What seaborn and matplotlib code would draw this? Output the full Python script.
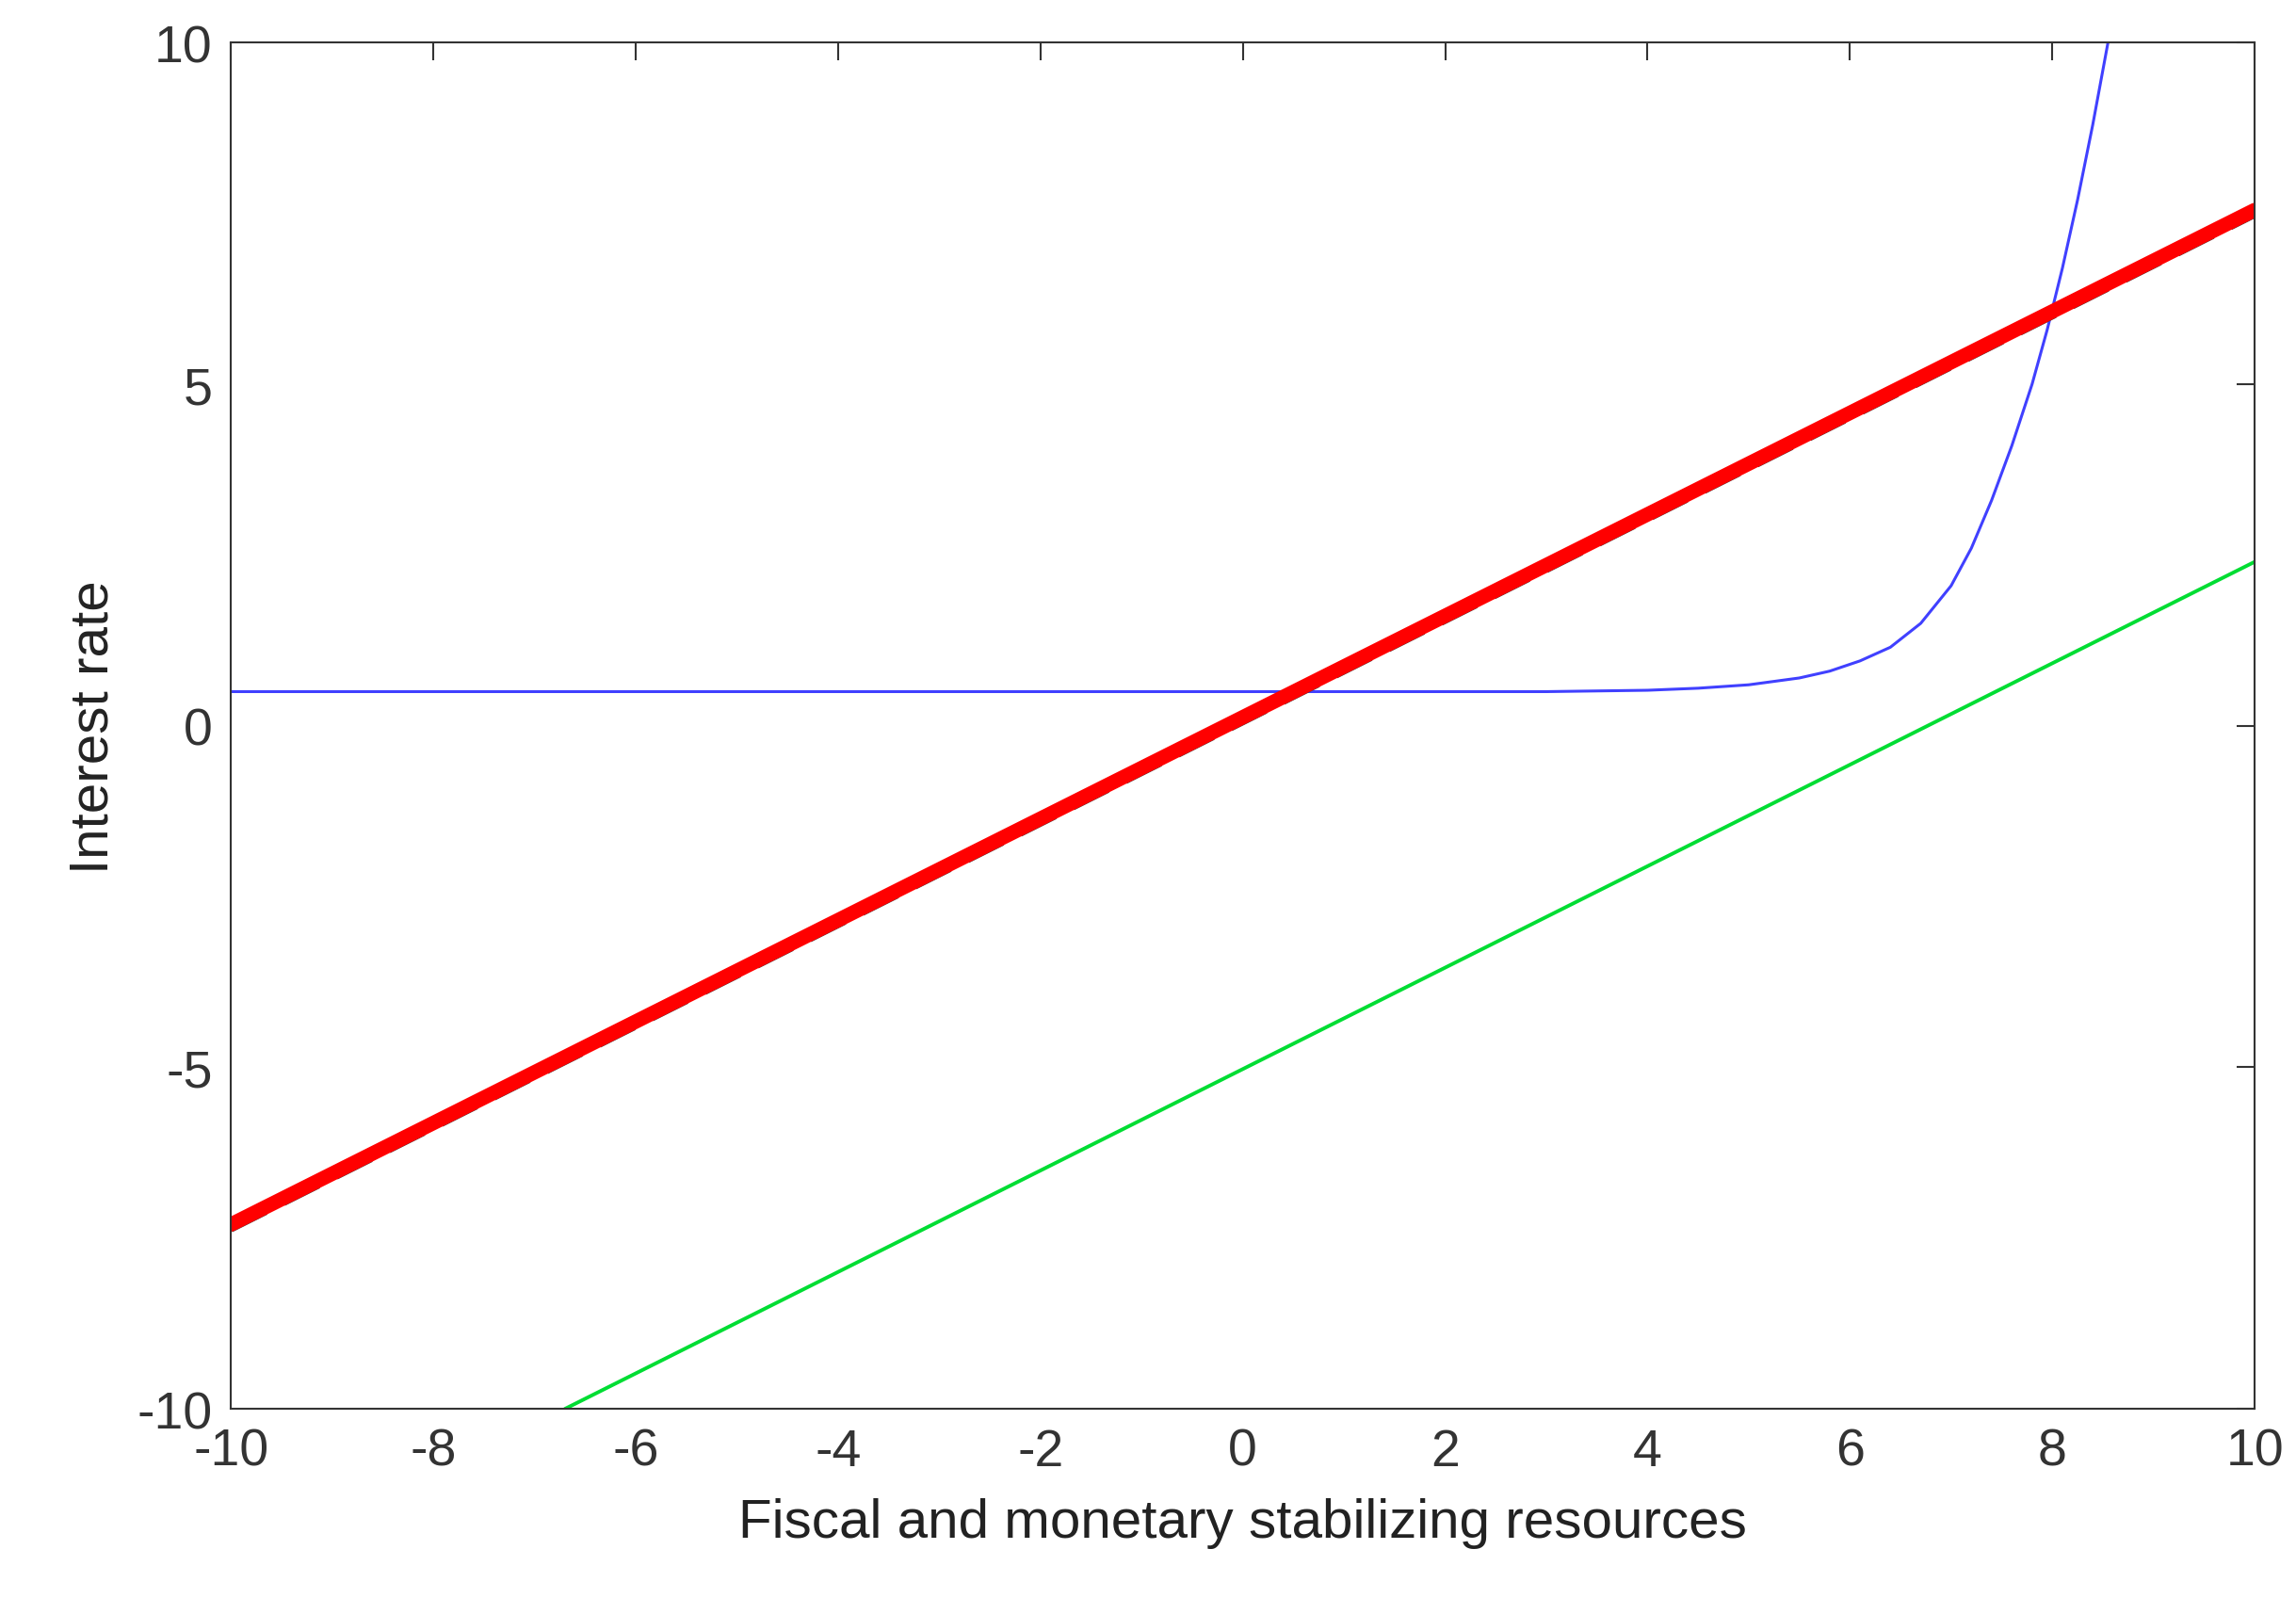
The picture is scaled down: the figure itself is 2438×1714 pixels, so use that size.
import matplotlib
matplotlib.use("Agg")
import matplotlib.pyplot as plt
import seaborn as sns
import pandas as pd

# values
line_x = [-10, 10]
red_y = [-7.3, 7.55]
green_x = [-6.7, 10]
green_y = [-10, 2.4]
blue_x = [-10, 0, 3, 4, 4.5, 5, 5.5, 5.8, 6.1, 6.4, 6.7, 7.0, 7.2, 7.4, 7.6,
          7.8, 7.95, 8.1, 8.25, 8.4, 8.55]
blue_y = [0.5, 0.5, 0.5, 0.52, 0.55, 0.6, 0.7, 0.8, 0.95, 1.15, 1.5, 2.05,
          2.6, 3.3, 4.1, 5.0, 5.8, 6.7, 7.7, 8.8, 10.0]

sns.set_style('white')
plt.rcParams['font.family'] = ['Liberation Sans', 'DejaVu Sans']
plt.rcParams['axes.unicode_minus'] = False

fig = plt.figure(figsize=(24.38, 17.15), dpi=100)
ax = fig.add_axes([0.1006, 0.127, 0.8814, 0.846])

sns.lineplot(data=pd.DataFrame({'x': blue_x, 'y': blue_y}), x='x', y='y',
             ax=ax, color='#4040ff', lw=2.2)
sns.lineplot(data=pd.DataFrame({'x': green_x, 'y': green_y}), x='x', y='y',
             ax=ax, color='#00dd33', lw=2.8)
sns.lineplot(data=pd.DataFrame({'x': line_x, 'y': [v - 0.07 for v in red_y]}),
             x='x', y='y', ax=ax, color='#444444', lw=5, linestyle=(0, (6, 3)))
sns.lineplot(data=pd.DataFrame({'x': line_x, 'y': red_y}), x='x', y='y',
             ax=ax, color='#ff0000', lw=11)

ax.set_xlim(-10, 10)
ax.set_ylim(-10, 10)
ax.set_xticks(range(-10, 11, 2))
ax.set_yticks([-10, -5, 0, 5, 10])
ax.tick_params(direction='in', length=14, width=1.5, labelsize=40,
               colors='#333333', top=True, right=True, pad=14)
for s in ax.spines.values():
    s.set_color('#333333')
    s.set_linewidth(1.5)
ax.set_xlabel('Fiscal and monetary stabilizing resources', fontsize=42,
              color='#222222', labelpad=16)
ax.set_ylabel('Interest rate', fontsize=42, color='#222222', labelpad=14)

fig.savefig('out.png', dpi=100)
